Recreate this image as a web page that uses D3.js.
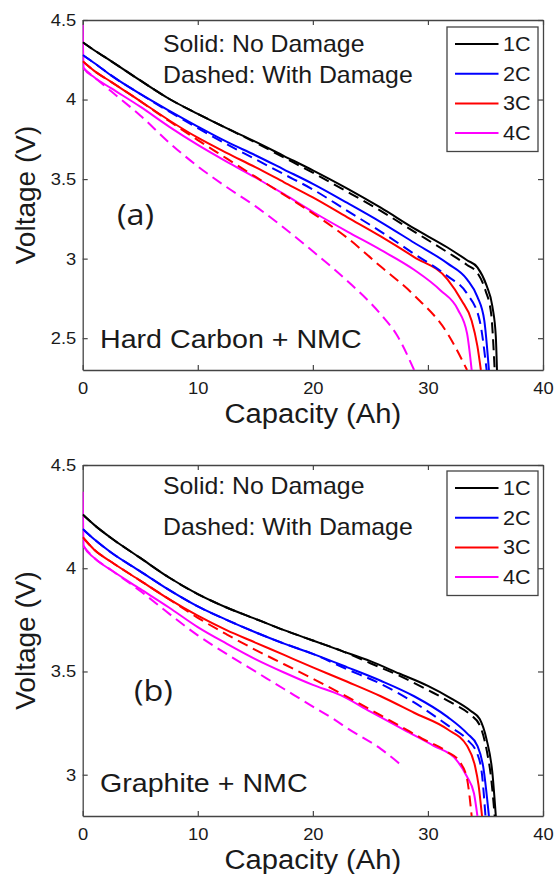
<!DOCTYPE html>
<html>
<head>
<meta charset="utf-8">
<script src="https://cdn.jsdelivr.net/npm/d3@7"></script>
<style>
  body { margin: 0; background: #fff; }
  svg { display: block; font-family: "Liberation Sans", Arial, sans-serif; }
</style>
</head>
<body>
<svg id="canvas" width="556" height="874"></svg>
<script>
// rates shown in the legend and their colours
let rates = ["1C", "2C", "3C", "4C"];
let rateColors = ["#000000", "#0000ff", "#ff0000", "#ff00ff"];

let xTicks = [0, 10, 20, 30, 40];
let yTicksA = [2.5, 3, 3.5, 4, 4.5];
let yTicksB = [3, 3.5, 4, 4.5];

// (a) Hard Carbon + NMC, [capacity Ah, voltage V]
let hardCarbon1C = [[0,4.36],[1,4.31],[2.5,4.24],[5,4.12],[7.5,4.005],[10,3.91],[12.5,3.82],[15,3.735],[17.5,3.645],[20,3.555],[23,3.44],[25.9,3.32],[28.8,3.19],[31.7,3.07],[33.4,2.99],[34.3,2.945],[35.1,2.83],[35.6,2.70],[35.9,2.51],[36.0,2.3]];
let hardCarbon1Cdmg = [[0,4.36],[1,4.31],[2.5,4.24],[5,4.12],[7.5,4.005],[10,3.91],[12.5,3.82],[15,3.73],[17.5,3.635],[20,3.54],[23,3.42],[25.9,3.30],[28.8,3.17],[31.7,3.04],[33.4,2.96],[34.3,2.91],[35.0,2.80],[35.5,2.65],[35.8,2.3]];
let hardCarbon2C = [[0,4.28],[1,4.23],[2.5,4.15],[5,4.035],[7.5,3.93],[10,3.83],[12.5,3.735],[15,3.65],[17.5,3.56],[20,3.47],[23,3.35],[25.9,3.23],[28.8,3.10],[31.7,2.97],[33.4,2.87],[34.3,2.76],[34.9,2.61],[35.3,2.3]];
let hardCarbon2Cdmg = [[0,4.28],[1,4.23],[2.5,4.15],[5,4.035],[7.5,3.925],[10,3.82],[12.5,3.72],[15,3.625],[17.5,3.53],[20,3.435],[23,3.30],[25.9,3.17],[28.8,3.03],[31.7,2.89],[33.4,2.78],[34.5,2.61],[35.1,2.3]];
let hardCarbon3C = [[0,4.24],[1,4.18],[2.5,4.11],[5,3.99],[7.5,3.87],[10,3.76],[12.5,3.665],[15,3.575],[17.5,3.48],[20,3.385],[23,3.26],[25.9,3.14],[28.8,3.01],[31.7,2.87],[32.9,2.74],[33.8,2.61],[34.3,2.45],[34.6,2.3]];
let hardCarbon3Cdmg = [[0,4.24],[1,4.18],[2.5,4.11],[5,3.99],[7.5,3.865],[10,3.745],[12.5,3.63],[15,3.515],[17.2,3.415],[20.1,3.28],[23,3.13],[25.9,2.95],[28.8,2.77],[31.7,2.53],[33.4,2.3]];
let hardCarbon4C = [[0,4.47],[0.08,4.20],[1,4.14],[2.5,4.07],[5,3.955],[7.5,3.83],[10,3.715],[12.5,3.61],[15,3.51],[17.5,3.405],[20.1,3.29],[23,3.17],[25.9,3.055],[28.8,2.93],[31.1,2.80],[32.6,2.68],[33.4,2.53],[33.8,2.3]];
let hardCarbon4Cdmg = [[0,4.20],[1,4.14],[2.5,4.05],[5,3.90],[7.5,3.73],[10,3.58],[12.5,3.45],[15,3.33],[17.2,3.21],[20.1,3.04],[23,2.86],[25.9,2.65],[27.3,2.52],[28.8,2.3]];

// (b) Graphite + NMC
let graphite1C = [[0,4.26],[1,4.21],[2.5,4.145],[5,4.05],[7.5,3.955],[10,3.875],[12.5,3.81],[15,3.755],[17.5,3.70],[20,3.65],[22.5,3.60],[25,3.55],[27.5,3.49],[30,3.43],[32,3.37],[33.7,3.31],[34.5,3.27],[35.1,3.17],[35.6,3.01],[35.9,2.8]];
let graphite1Cdmg = [[0,4.26],[1,4.21],[2.5,4.145],[5,4.05],[7.5,3.955],[10,3.875],[12.5,3.81],[15,3.755],[17.5,3.70],[20,3.65],[22.5,3.60],[25,3.54],[27.5,3.48],[30,3.41],[32,3.35],[33.7,3.29],[34.5,3.24],[35.1,3.12],[35.5,2.98],[35.8,2.8]];
let graphite2C = [[0,4.19],[1,4.14],[2.5,4.075],[5,3.985],[7.5,3.895],[10,3.815],[12.5,3.75],[15,3.69],[17.5,3.635],[20,3.585],[23,3.52],[25.9,3.455],[28.8,3.38],[31.7,3.28],[33.4,3.20],[34.3,3.14],[34.8,3.04],[35.3,2.8]];
let graphite2Cdmg = [[0,4.19],[1,4.14],[2.5,4.075],[5,3.985],[7.5,3.895],[10,3.815],[12.5,3.75],[15,3.69],[17.5,3.635],[20,3.585],[23,3.51],[25.9,3.44],[28.8,3.35],[31.7,3.24],[33.4,3.17],[34.3,3.10],[34.7,3.0],[35.0,2.8]];
let graphite3C = [[0,4.15],[1,4.09],[2.5,4.03],[5,3.94],[7.5,3.85],[10,3.77],[12.5,3.70],[15,3.64],[17.5,3.58],[20,3.52],[23,3.45],[25.9,3.38],[28.8,3.30],[31.7,3.22],[33.4,3.14],[34.1,3.04],[34.4,2.95],[34.7,2.8]];
let graphite3Cdmg = [[0,4.15],[1,4.09],[2.5,4.03],[5,3.94],[7.5,3.85],[10,3.76],[12.5,3.68],[15,3.605],[17.5,3.535],[20,3.465],[22.4,3.395],[25,3.315],[27.6,3.235],[29.5,3.175],[31.7,3.11],[32.8,3.06],[33.4,2.98],[33.8,2.8]];
let graphite4C = [[0,4.37],[0.08,4.11],[1,4.05],[2.5,3.99],[5,3.90],[7.5,3.81],[10,3.715],[12.5,3.635],[15,3.56],[17.5,3.495],[20,3.435],[22.4,3.385],[25,3.305],[28,3.215],[30.5,3.14],[32.5,3.07],[33.4,2.99],[34.0,2.91],[34.3,2.8]];
let graphite4Cdmg = [[0,4.11],[1,4.05],[2.5,3.99],[5,3.89],[7.5,3.78],[10,3.675],[12.5,3.585],[15,3.50],[17.5,3.415],[20,3.33],[21.8,3.27],[23,3.225],[25.9,3.125],[27.6,3.05]];

let panels = [
  {
    top: 20, bottom: 370, yMin: 2.3, yTicks: yTicksA,
    solid: [hardCarbon1C, hardCarbon2C, hardCarbon3C, hardCarbon4C],
    dashed: [hardCarbon1Cdmg, hardCarbon2Cdmg, hardCarbon3Cdmg, hardCarbon4Cdmg],
    tag: "(a)", tagX: 117, tagY: 225, name: "Hard Carbon + NMC", nameY: 348,
    noteY: [52, 83], legendTop: 27
  },
  {
    top: 465, bottom: 816, yMin: 2.8, yTicks: yTicksB,
    solid: [graphite1C, graphite2C, graphite3C, graphite4C],
    dashed: [graphite1Cdmg, graphite2Cdmg, graphite3Cdmg, graphite4Cdmg],
    tag: "(b)", tagX: 134, tagY: 701, name: "Graphite + NMC", nameY: 792,
    noteY: [494, 535], legendTop: 471
  }
];

let left = 82.7, right = 543;
let stretch = 1.08;
let canvas = d3.select("#canvas");
let axisColor = "#444";

let addText = (g, x, y, str, size, anchor, family) => {
  return g.append("text")
    .attr("transform", "translate(" + x + "," + y + ") scale(" + stretch + ",1)")
    .attr("text-anchor", anchor || "start")
    .style("font-size", size + "px")
    .style("font-family", family || null)
    .attr("fill", "#1a1a1a")
    .text(str);
};

panels.forEach((p, i) => {
  let g = canvas.append("g");
  let x = d3.scaleLinear().domain([0, 40]).range([left, right]);
  let y = d3.scaleLinear().domain([p.yMin, 4.5]).range([p.bottom, p.top]);

  let styleAxis = (a) => {
    a.select(".domain").attr("stroke", axisColor).attr("stroke-width", 1.3);
    a.selectAll(".tick line").attr("stroke", axisColor).attr("stroke-width", 1.2);
    a.selectAll(".tick text")
      .attr("fill", "#1a1a1a")
      .style("font-size", "17px")
      .attr("transform", "scale(" + stretch + ",1)");
  };

  g.append("g")
    .attr("transform", "translate(0," + p.bottom + ")")
    .call(d3.axisBottom(x).tickValues(xTicks).tickFormat(d3.format("d"))
      .tickSizeInner(-5).tickSizeOuter(0).tickPadding(12))
    .call(styleAxis);
  g.append("g")
    .attr("transform", "translate(0," + p.top + ")")
    .call(d3.axisTop(x).tickValues(xTicks).tickFormat("")
      .tickSizeInner(-5).tickSizeOuter(0))
    .call(styleAxis);
  g.append("g")
    .attr("transform", "translate(" + left + ",0)")
    .call(d3.axisLeft(y).tickValues(p.yTicks).tickFormat((d) => String(d))
      .tickSizeInner(-5).tickSizeOuter(0).tickPadding(6))
    .call(styleAxis);
  g.append("g")
    .attr("transform", "translate(" + right + ",0)")
    .call(d3.axisRight(y).tickValues(p.yTicks).tickFormat("")
      .tickSizeInner(-5).tickSizeOuter(0))
    .call(styleAxis);

  // clip the curves to the plot box
  g.append("clipPath").attr("id", "clip" + i)
    .append("rect")
    .attr("x", left).attr("y", p.top)
    .attr("width", right - left).attr("height", p.bottom - p.top);

  let line = d3.line()
    .x((d) => x(d[0]))
    .y((d) => y(d[1]))
    .curve(d3.curveMonotoneX);

  let curves = g.append("g").attr("clip-path", "url(#clip" + i + ")");
  curves.selectAll(".nodmg")
    .data(p.solid)
    .enter()
    .append("path")
    .attr("class", "nodmg")
    .attr("d", line)
    .attr("fill", "none")
    .attr("stroke", (d, k) => rateColors[k])
    .attr("stroke-width", 2);
  curves.selectAll(".dmg")
    .data(p.dashed)
    .enter()
    .append("path")
    .attr("class", "dmg")
    .attr("d", line)
    .attr("fill", "none")
    .attr("stroke", (d, k) => rateColors[k])
    .attr("stroke-width", 2)
    .attr("stroke-dasharray", "11,6");

  // legend
  let legend = g.append("g");
  legend.append("rect")
    .attr("x", 447).attr("y", p.legendTop)
    .attr("width", 91).attr("height", 124.5)
    .attr("fill", "#fff")
    .attr("stroke", axisColor)
    .attr("stroke-width", 1.3);
  rates.forEach((r, k) => {
    let ly = p.legendTop + 17 + k * 29.7;
    legend.append("line")
      .attr("x1", 455).attr("x2", 498.5)
      .attr("y1", ly).attr("y2", ly)
      .attr("stroke", rateColors[k])
      .attr("stroke-width", 2);
    addText(legend, 503, ly + 7, r, 20);
  });

  // labels
  addText(g, 163, p.noteY[0], "Solid: No Damage", 23);
  addText(g, 163, p.noteY[1], "Dashed: With Damage", 23);
  addText(g, p.tagX, p.tagY, p.tag, 30, "start", "'Open Sans', sans-serif");
  addText(g, 100, p.nameY, p.name, 26.5);
  addText(g, (left + right) / 2, p.bottom + 53, "Capacity (Ah)", 27, "middle");

  g.append("text")
    .attr("transform", "translate(35," + (p.top + p.bottom) / 2 + ") rotate(-90)")
    .attr("text-anchor", "middle")
    .style("font-size", "28px")
    .attr("fill", "#1a1a1a")
    .text("Voltage (V)");
});
</script>
</body>
</html>
